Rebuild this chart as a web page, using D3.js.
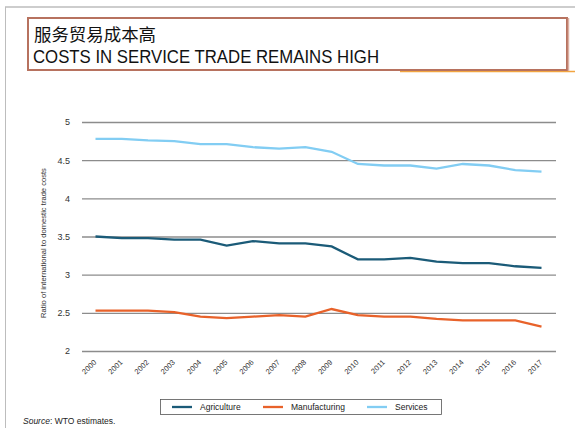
<!DOCTYPE html>
<html>
<head>
<meta charset="utf-8">
<script src="https://cdn.jsdelivr.net/npm/d3@7"></script>
<style>
  body { margin: 0; background: #fff; }
  svg { display: block; }
</style>
</head>
<body>
<div id="chart"></div>
<script>
const width = 575, height = 428;

const years = [2000, 2001, 2002, 2003, 2004, 2005, 2006, 2007, 2008, 2009,
               2010, 2011, 2012, 2013, 2014, 2015, 2016, 2017];
const agriculture = [3.50, 3.48, 3.48, 3.46, 3.46, 3.38, 3.44, 3.41, 3.41, 3.37,
                     3.20, 3.20, 3.22, 3.17, 3.15, 3.15, 3.11, 3.09];
const manufacturing = [2.53, 2.53, 2.53, 2.51, 2.45, 2.43, 2.45, 2.47, 2.45, 2.55,
                       2.47, 2.45, 2.45, 2.42, 2.40, 2.40, 2.40, 2.32];
const services = [4.78, 4.78, 4.76, 4.75, 4.71, 4.71, 4.67, 4.65, 4.67, 4.61,
                  4.45, 4.43, 4.43, 4.39, 4.45, 4.43, 4.37, 4.35];
const yTicks = [2, 2.5, 3, 3.5, 4, 4.5, 5];

const series = [
  {name: "Agriculture", values: agriculture, color: "#1b5b78"},
  {name: "Manufacturing", values: manufacturing, color: "#e8622a"},
  {name: "Services", values: services, color: "#82cdf3"}
];

const svg = d3.select("#chart").append("svg")
    .attr("width", width)
    .attr("height", height);

// slide frame
svg.append("line").attr("x1", 5).attr("x2", width).attr("y1", 7).attr("y2", 7)
    .attr("stroke", "#bdbdbd").attr("stroke-width", 1.5);
svg.append("line").attr("x1", 5.5).attr("x2", 5.5).attr("y1", 7).attr("y2", height)
    .attr("stroke", "#bdbdbd").attr("stroke-width", 1);
svg.append("line").attr("x1", 400).attr("x2", width).attr("y1", 71.5).attr("y2", 71.5)
    .attr("stroke", "#f2a540").attr("stroke-width", 1.5);

// title box
svg.append("rect").attr("x", 28).attr("y", 18).attr("width", 539).attr("height", 52)
    .attr("fill", "#fff").attr("stroke", "#b7725f").attr("stroke-width", 2);
svg.append("line").attr("x1", 568.5).attr("x2", 568.5).attr("y1", 18).attr("y2", 71)
    .attr("stroke", "#dcb1a4").attr("stroke-width", 1.5);

svg.append("text").attr("x", 34).attr("y", 41)
    .attr("font-family", "'Noto Sans CJK SC', sans-serif")
    .attr("font-size", 17).attr("fill", "#111")
    .attr("textLength", 122).attr("lengthAdjust", "spacingAndGlyphs")
    .text("服务贸易成本高");

svg.append("text").attr("x", 33).attr("y", 63)
    .attr("font-family", "'Liberation Sans', Arial, sans-serif")
    .attr("font-size", 18).attr("fill", "#111")
    .attr("textLength", 346).attr("lengthAdjust", "spacingAndGlyphs")
    .text("COSTS IN SERVICE TRADE REMAINS HIGH");

// plot
const x = d3.scalePoint().domain(years).range([95.5, 541.5]);
const y = d3.scaleLinear().domain([2, 5]).range([351, 122]);

const yAxis = svg.append("g")
    .attr("transform", "translate(82,0)")
    .call(d3.axisLeft(y).tickValues(yTicks).tickSize(-474).tickPadding(12)
        .tickFormat(d3.format("")));
yAxis.select(".domain").remove();
yAxis.selectAll(".tick line").attr("stroke", "#8c8c8c").attr("stroke-width", 1.3);
yAxis.selectAll(".tick text")
    .attr("font-family", "'Liberation Sans', Arial, sans-serif")
    .attr("font-size", 9).attr("fill", "#333");

const xAxis = svg.append("g")
    .attr("transform", "translate(0,355)")
    .call(d3.axisBottom(x).tickSize(0).tickPadding(0));
xAxis.select(".domain").remove();
xAxis.selectAll(".tick text")
    .attr("font-family", "'Liberation Sans', Arial, sans-serif")
    .attr("font-size", 7.5).attr("fill", "#333")
    .attr("text-anchor", "end")
    .attr("y", 0)
    .attr("dy", "0.35em")
    .attr("transform", "translate(-1,6) rotate(-45)");

svg.append("text")
    .attr("transform", "translate(46,243) rotate(-90)")
    .attr("text-anchor", "middle")
    .attr("font-family", "'Liberation Sans', Arial, sans-serif")
    .attr("font-size", 7.6).attr("fill", "#333")
    .text("Ratio of international to domestic trade costs");

const line = d3.line()
    .x((d, i) => x(years[i]))
    .y(d => y(d));

svg.selectAll("path.series")
    .data(series)
    .join("path")
    .attr("class", "series")
    .attr("fill", "none")
    .attr("stroke", d => d.color)
    .attr("stroke-width", 2.3)
    .attr("d", d => line(d.values));

// legend
svg.append("rect").attr("x", 160.5).attr("y", 399.5).attr("width", 281).attr("height", 15)
    .attr("fill", "#fff").attr("stroke", "#555").attr("stroke-width", 0.8);
const legendX = [172, 263, 367];
const legend = svg.selectAll("g.legend")
    .data(series)
    .join("g")
    .attr("class", "legend")
    .attr("transform", (d, i) => `translate(${legendX[i]},407)`);
legend.append("line").attr("x1", 0).attr("x2", 20)
    .attr("stroke", d => d.color).attr("stroke-width", 2.3);
legend.append("text").attr("x", 28).attr("y", 3)
    .attr("font-family", "'Liberation Sans', Arial, sans-serif")
    .attr("font-size", 8.5).attr("fill", "#222")
    .text(d => d.name);

const src = svg.append("text").attr("x", 23).attr("y", 424)
    .attr("font-family", "'Liberation Sans', Arial, sans-serif")
    .attr("font-size", 8.5).attr("fill", "#222");
src.append("tspan").attr("font-style", "italic").text("Source");
src.append("tspan").text(": WTO estimates.");
</script>
</body>
</html>
